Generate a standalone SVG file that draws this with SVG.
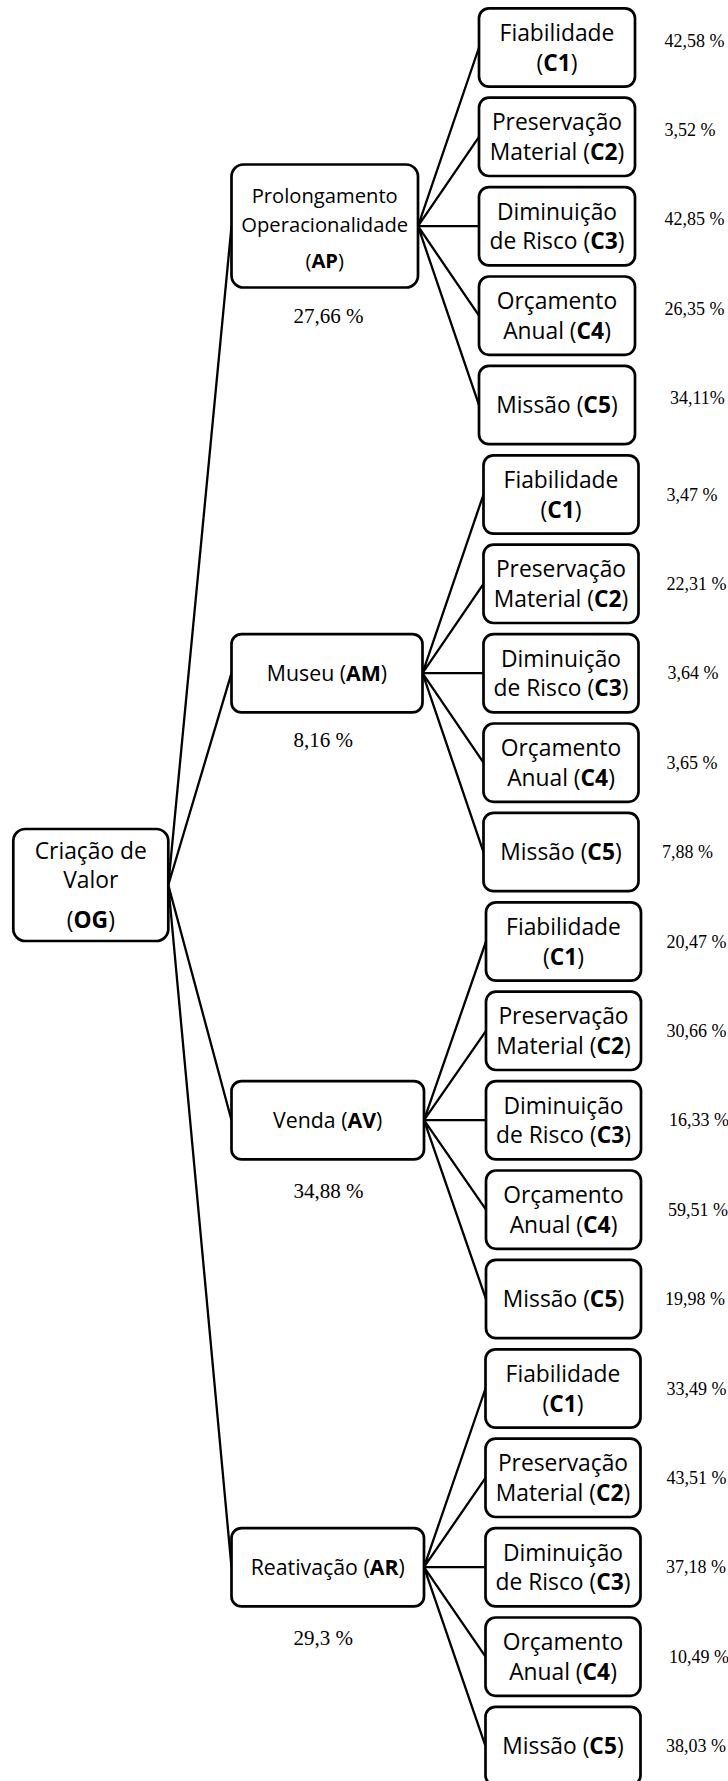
<svg xmlns="http://www.w3.org/2000/svg" width="728" height="1781" viewBox="0 0 728 1781">
  <style>
    .box { fill: #fff; stroke: #000; stroke-width: 2.7; }
    .wire { fill: none; stroke: #000; stroke-width: 2.3; }
    .lbl { font-family: "Open Sans", "Noto Sans", sans-serif; font-size: 22.8px; text-anchor: middle; fill: #000; }
    .grp { font-size: 21.3px; }
    .ap { font-size: 20.2px; }
    .b { font-weight: bold; }
    .pct { font-family: "Liberation Serif", "Times New Roman", serif; font-size: 18px; fill: #000; }
    .gpct { font-size: 21px; }
  </style>

  <!-- connectors: root to alternatives, alternatives to criteria -->
  <g id="connectors" class="wire">
    <path d="M168.3 885 L231.5 226.2 M168.3 885 L231.5 673.2 M168.3 885 L231.5 1120.2 M168.3 885 L231.5 1567.2"/>
    <path d="M418 226.2 L479 47.5 M418 226.2 L479 136.9 M418 226.2 L479 226.2 M418 226.2 L479 315.7 M418 226.2 L479 405.1"/>
    <path d="M422.5 673.2 L483.5 494.5 M422.5 673.2 L483.5 583.9 M422.5 673.2 L483.5 673.2 M422.5 673.2 L483.5 762.7 M422.5 673.2 L483.5 852.1"/>
    <path d="M424 1120.2 L486 941.5 M424 1120.2 L486 1030.9 M424 1120.2 L486 1120.2 M424 1120.2 L486 1209.7 M424 1120.2 L486 1299.1"/>
    <path d="M424 1567.2 L485.5 1388.5 M424 1567.2 L485.5 1477.9 M424 1567.2 L485.5 1567.2 M424 1567.2 L485.5 1656.7 M424 1567.2 L485.5 1746.1"/>
  </g>

  <!-- root -->
  <g id="og">
    <rect class="box" x="13.3" y="829" width="155" height="112" rx="12"/>
    <text class="lbl" x="90.8" y="859.3">Criação de</text>
    <text class="lbl" x="90.8" y="888.3">Valor</text>
    <text class="lbl" x="90.8" y="928.3">(<tspan class="b">OG</tspan>)</text>
  </g>

  <!-- alternatives -->
  <g id="ap">
    <rect class="box" x="231.5" y="164.5" width="186.5" height="123" rx="12"/>
    <text class="lbl ap" x="324.7" y="203.3">Prolongamento</text>
    <text class="lbl ap" x="324.7" y="231.7">Operacionalidade</text>
    <text class="lbl ap" x="324.7" y="268">(<tspan class="b">AP</tspan>)</text>
    <text class="pct gpct" x="293.5" y="322.5">27,66 %</text>
  </g>
  <g id="am">
    <rect class="box" x="231.5" y="634.1" width="191" height="78.3" rx="10"/>
    <text class="lbl grp" x="327" y="680.7">Museu (<tspan class="b">AM</tspan>)</text>
    <text class="pct gpct" x="293.5" y="747">8,16 %</text>
  </g>
  <g id="av">
    <rect class="box" x="231.5" y="1081.1" width="192.5" height="78.3" rx="10"/>
    <text class="lbl grp" x="327.7" y="1127.7">Venda (<tspan class="b">AV</tspan>)</text>
    <text class="pct gpct" x="293.5" y="1198">34,88 %</text>
  </g>
  <g id="ar">
    <rect class="box" x="231.5" y="1528.1" width="192.5" height="78.3" rx="10"/>
    <text class="lbl grp" x="327.7" y="1574.7">Reativação (<tspan class="b">AR</tspan>)</text>
    <text class="pct gpct" x="293.5" y="1645">29,3 %</text>
  </g>

  <!-- criteria under AP -->
  <g id="ap-c1">
    <rect class="box" x="479" y="8.3" width="156" height="78.3" rx="10"/>
    <text class="lbl" x="557" y="40.7">Fiabilidade</text>
    <text class="lbl" x="557" y="70.5">(<tspan class="b">C1</tspan>)</text>
    <text class="pct" x="664.5" y="46.5">42,58 %</text>
  </g>
  <g id="ap-c2">
    <rect class="box" x="479" y="97.7" width="156" height="78.3" rx="10"/>
    <text class="lbl" x="557" y="130.1">Preservação</text>
    <text class="lbl" x="557" y="159.9">Material (<tspan class="b">C2</tspan>)</text>
    <text class="pct" x="664.5" y="135.9">3,52 %</text>
  </g>
  <g id="ap-c3">
    <rect class="box" x="479" y="187.1" width="156" height="78.3" rx="10"/>
    <text class="lbl" x="557" y="219.5">Diminuição</text>
    <text class="lbl" x="557" y="249.3">de Risco (<tspan class="b">C3</tspan>)</text>
    <text class="pct" x="664.5" y="225.3">42,85 %</text>
  </g>
  <g id="ap-c4">
    <rect class="box" x="479" y="276.5" width="156" height="78.3" rx="10"/>
    <text class="lbl" x="557" y="308.9">Orçamento</text>
    <text class="lbl" x="557" y="338.7">Anual (<tspan class="b">C4</tspan>)</text>
    <text class="pct" x="664.5" y="314.7">26,35 %</text>
  </g>
  <g id="ap-c5">
    <rect class="box" x="479" y="365.9" width="156" height="78.3" rx="10"/>
    <text class="lbl" x="557" y="413.1">Missão (<tspan class="b">C5</tspan>)</text>
    <text class="pct" x="670" y="404.1">34,11%</text>
  </g>

  <!-- criteria under AM -->
  <g id="am-c1">
    <rect class="box" x="483.5" y="455.3" width="155" height="78.3" rx="10"/>
    <text class="lbl" x="561" y="487.7">Fiabilidade</text>
    <text class="lbl" x="561" y="517.5">(<tspan class="b">C1</tspan>)</text>
    <text class="pct" x="666.5" y="500.5">3,47 %</text>
  </g>
  <g id="am-c2">
    <rect class="box" x="483.5" y="544.7" width="155" height="78.3" rx="10"/>
    <text class="lbl" x="561" y="577.1">Preservação</text>
    <text class="lbl" x="561" y="606.9">Material (<tspan class="b">C2</tspan>)</text>
    <text class="pct" x="666.5" y="589.9">22,31 %</text>
  </g>
  <g id="am-c3">
    <rect class="box" x="483.5" y="634.1" width="155" height="78.3" rx="10"/>
    <text class="lbl" x="561" y="666.5">Diminuição</text>
    <text class="lbl" x="561" y="696.3">de Risco (<tspan class="b">C3</tspan>)</text>
    <text class="pct" x="667.5" y="679.3">3,64 %</text>
  </g>
  <g id="am-c4">
    <rect class="box" x="483.5" y="723.5" width="155" height="78.3" rx="10"/>
    <text class="lbl" x="561" y="755.9">Orçamento</text>
    <text class="lbl" x="561" y="785.7">Anual (<tspan class="b">C4</tspan>)</text>
    <text class="pct" x="666.5" y="768.7">3,65 %</text>
  </g>
  <g id="am-c5">
    <rect class="box" x="483.5" y="812.9" width="155" height="78.3" rx="10"/>
    <text class="lbl" x="561" y="860.1">Missão (<tspan class="b">C5</tspan>)</text>
    <text class="pct" x="662" y="858.1">7,88 %</text>
  </g>

  <!-- criteria under AV -->
  <g id="av-c1">
    <rect class="box" x="486" y="902.3" width="155" height="78.3" rx="10"/>
    <text class="lbl" x="563.5" y="934.7">Fiabilidade</text>
    <text class="lbl" x="563.5" y="964.5">(<tspan class="b">C1</tspan>)</text>
    <text class="pct" x="666.5" y="947.5">20,47 %</text>
  </g>
  <g id="av-c2">
    <rect class="box" x="486" y="991.7" width="155" height="78.3" rx="10"/>
    <text class="lbl" x="563.5" y="1024.1">Preservação</text>
    <text class="lbl" x="563.5" y="1053.9">Material (<tspan class="b">C2</tspan>)</text>
    <text class="pct" x="666.5" y="1036.9">30,66 %</text>
  </g>
  <g id="av-c3">
    <rect class="box" x="486" y="1081.1" width="155" height="78.3" rx="10"/>
    <text class="lbl" x="563.5" y="1113.5">Diminuição</text>
    <text class="lbl" x="563.5" y="1143.3">de Risco (<tspan class="b">C3</tspan>)</text>
    <text class="pct" x="669" y="1126.3">16,33 %</text>
  </g>
  <g id="av-c4">
    <rect class="box" x="486" y="1170.5" width="155" height="78.3" rx="10"/>
    <text class="lbl" x="563.5" y="1202.9">Orçamento</text>
    <text class="lbl" x="563.5" y="1232.7">Anual (<tspan class="b">C4</tspan>)</text>
    <text class="pct" x="668" y="1215.7">59,51 %</text>
  </g>
  <g id="av-c5">
    <rect class="box" x="486" y="1259.9" width="155" height="78.3" rx="10"/>
    <text class="lbl" x="563.5" y="1307.1">Missão (<tspan class="b">C5</tspan>)</text>
    <text class="pct" x="665" y="1305.1">19,98 %</text>
  </g>

  <!-- criteria under AR -->
  <g id="ar-c1">
    <rect class="box" x="485.5" y="1349.3" width="155" height="78.3" rx="10"/>
    <text class="lbl" x="563" y="1381.7">Fiabilidade</text>
    <text class="lbl" x="563" y="1411.5">(<tspan class="b">C1</tspan>)</text>
    <text class="pct" x="666.5" y="1394.5">33,49 %</text>
  </g>
  <g id="ar-c2">
    <rect class="box" x="485.5" y="1438.7" width="155" height="78.3" rx="10"/>
    <text class="lbl" x="563" y="1471.1">Preservação</text>
    <text class="lbl" x="563" y="1500.9">Material (<tspan class="b">C2</tspan>)</text>
    <text class="pct" x="666.5" y="1483.9">43,51 %</text>
  </g>
  <g id="ar-c3">
    <rect class="box" x="485.5" y="1528.1" width="155" height="78.3" rx="10"/>
    <text class="lbl" x="563" y="1560.5">Diminuição</text>
    <text class="lbl" x="563" y="1590.3">de Risco (<tspan class="b">C3</tspan>)</text>
    <text class="pct" x="666" y="1573.3">37,18 %</text>
  </g>
  <g id="ar-c4">
    <rect class="box" x="485.5" y="1617.5" width="155" height="78.3" rx="10"/>
    <text class="lbl" x="563" y="1649.9">Orçamento</text>
    <text class="lbl" x="563" y="1679.7">Anual (<tspan class="b">C4</tspan>)</text>
    <text class="pct" x="669" y="1662.7">10,49 %</text>
  </g>
  <g id="ar-c5">
    <rect class="box" x="485.5" y="1706.9" width="155" height="78.3" rx="10"/>
    <text class="lbl" x="563" y="1754.1">Missão (<tspan class="b">C5</tspan>)</text>
    <text class="pct" x="666" y="1752.1">38,03 %</text>
  </g>
</svg>
